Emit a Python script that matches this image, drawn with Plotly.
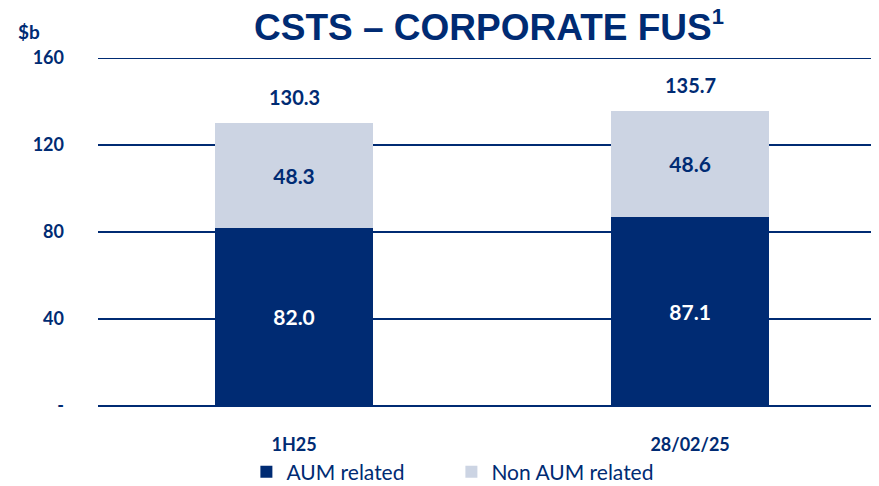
import plotly.graph_objects as go

# Data
periods = ['1H25', '28/02/25']
aum_related = [82.0, 87.1]
non_aum_related = [48.3, 48.6]
totals = [130.3, 135.7]
y_ticks = [0, 40, 80, 120, 160]
y_tick_labels = ['-', '40', '80', '120', '160']

navy = '#002B73'
light = '#CCD4E3'
label_font = 'Lato'

fig = go.Figure()

fig.add_trace(go.Bar(
    x=periods, y=aum_related, name='AUM related',
    marker=dict(color=navy, line=dict(width=0)),
    text=[f'{v:.1f}' for v in aum_related], textposition='inside',
    insidetextanchor='middle',
    textfont=dict(color='white', size=21, family=label_font, weight='bold'),
))
fig.add_trace(go.Bar(
    x=periods, y=non_aum_related, name='Non AUM related',
    marker=dict(color=light, line=dict(width=0)),
    text=[f'{v:.1f}' for v in non_aum_related], textposition='inside',
    insidetextanchor='middle',
    textfont=dict(color=navy, size=21, family=label_font, weight='bold'),
))

# totals above the stacks
for p, t in zip(periods, totals):
    fig.add_annotation(
        x=p, y=t, text=f'{t:.1f}', showarrow=False,
        yanchor='bottom', yshift=12,
        font=dict(color=navy, size=20, family=label_font, weight='bold'),
    )

# page body has an 8px margin, so the figure is a bit smaller than the window
fig.update_layout(
    barmode='stack',
    bargap=0.6,
    width=871, height=478,
    margin=dict(l=90, r=0, t=50, b=80, autoexpand=False),
    paper_bgcolor='white', plot_bgcolor='white',
    font=dict(family=label_font, color=navy),
    uniformtext=dict(mode='show', minsize=10),
    showlegend=True,
    legend=dict(
        orientation='h', x=0.19, xanchor='left', y=-0.19, yanchor='middle',
        font=dict(size=21, color=navy, family=label_font),
        traceorder='normal', itemwidth=30, entrywidth=160,
    ),
    xaxis=dict(
        range=[-0.495, 1.477],
        showgrid=False, showline=False, ticks='', ticklabelstandoff=26,
        tickfont=dict(size=18, color=navy, family=label_font, weight='bold'),
    ),
    yaxis=dict(
        range=[0, 160], tickvals=y_ticks, ticktext=y_tick_labels,
        showgrid=True, gridcolor=navy, gridwidth=2,
        zeroline=True, zerolinecolor=navy, zerolinewidth=2,
        showline=False, ticks='', ticklabelstandoff=33,
        tickfont=dict(size=18, color=navy, family=label_font, weight='bold'),
    ),
)

# top gridline at 160 (edge of range)
fig.add_hline(y=160, line=dict(color=navy, width=2), layer='below')

fig.add_annotation(
    text='CSTS – CORPORATE FUS<sup><span style="font-size:22px">1</span></sup>',
    xref='paper', yref='paper',
    x=0.5, y=1.0, yanchor='bottom', yshift=8, showarrow=False,
    font=dict(size=37, color=navy, family='Liberation Sans', weight='bold'),
)
fig.add_annotation(
    text='$b', xref='paper', yref='paper', xanchor='left',
    x=-0.105, y=1.0, yanchor='bottom', yshift=13, showarrow=False,
    font=dict(size=19, color=navy, family=label_font, weight='bold'),
)

fig.write_html('out.html')
